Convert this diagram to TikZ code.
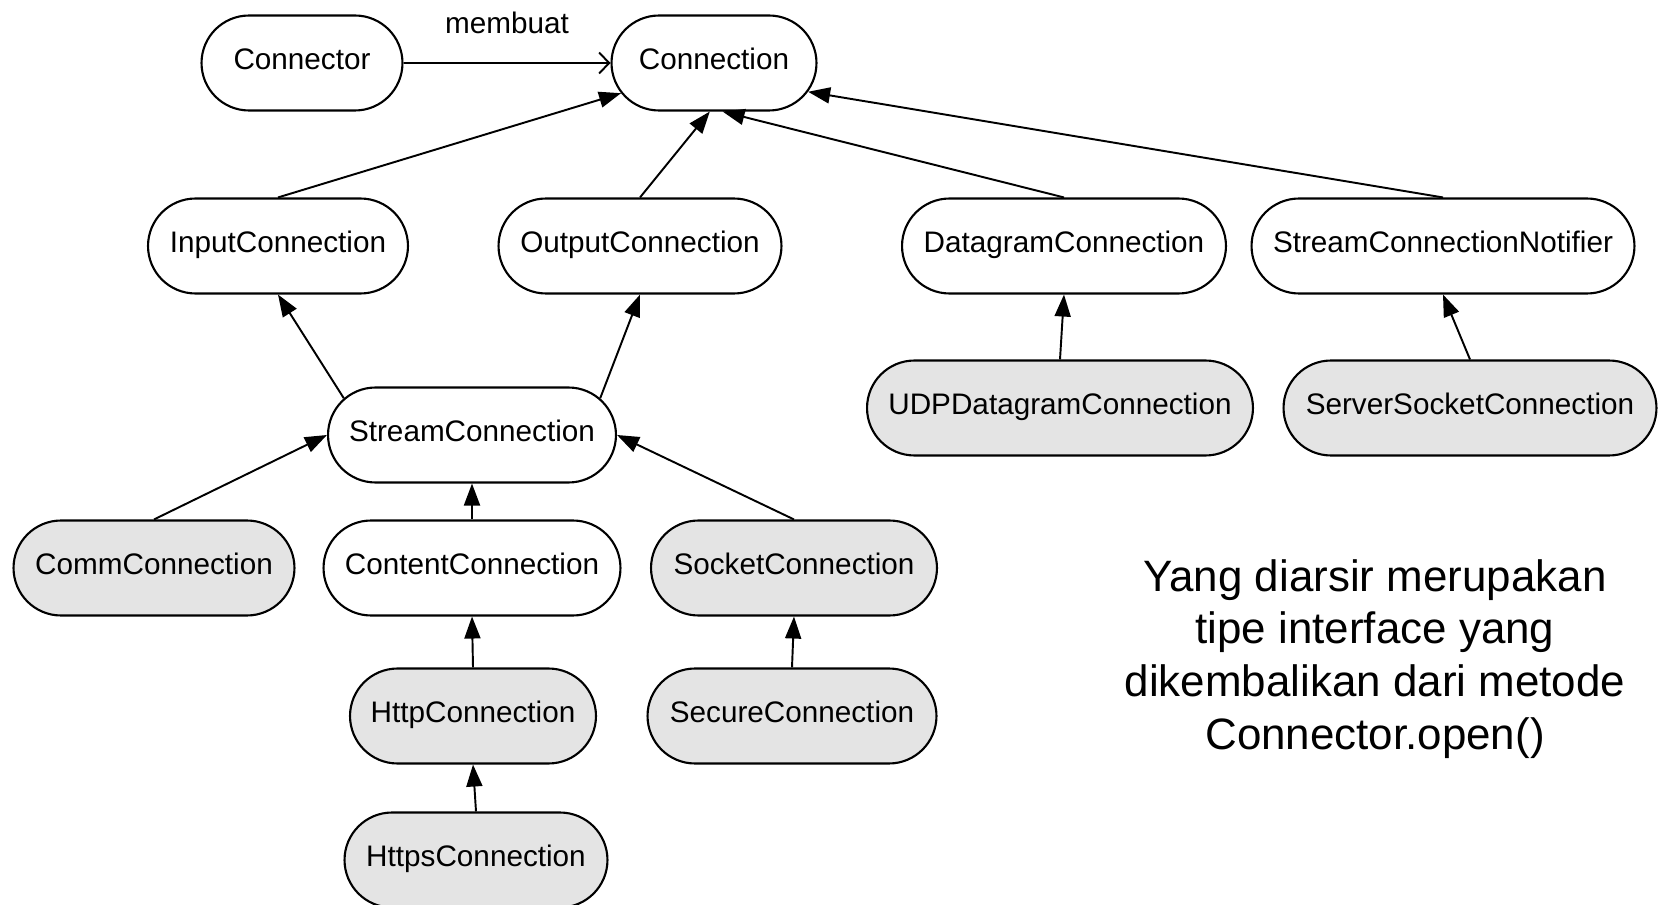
\documentclass[tikz,border=0pt]{standalone}
\usepackage{fontspec}
\setmainfont{Liberation Sans}
\usetikzlibrary{shapes.misc,arrows.meta}
\definecolor{shadegrey}{RGB}{228,228,228}
\tikzset{
	plainbox/.style={rounded rectangle, draw, line width=1.2pt, minimum height=1.9cm, minimum width=#1, inner sep=0pt, text height=0.8em, text depth=0.08em, font=\fontsize{16.9}{20}\selectfont},
	greybox/.style={plainbox=#1, fill=shadegrey},
	inherit/.style={line width=1.1pt, -{Triangle[length=0.44cm,width=0.32cm]}},
}

\begin{document}
\begin{tikzpicture}[x=0.02cm,y=-0.02cm]
	\fill[white] (0,0) rectangle (1660,905);
	\useasboundingbox (0,0) rectangle (1660,905);
	% top row
	\node[plainbox=4.02cm] (connector) at (302,63) {Connector};
	\node[plainbox=4.1cm] (connection) at (714,63) {Connection};
	\node[font=\fontsize{16.9}{20}\selectfont] (membuat) at (507,23) {membuat};
	% interfaces
	\node[plainbox=5.2cm] (input) at (278,246) {InputConnection};
	\node[plainbox=5.66cm] (output) at (640,246) {OutputConnection};
	\node[plainbox=6.48cm] (datagram) at (1064,246) {DatagramConnection};
	\node[plainbox=7.66cm] (notifier) at (1443,246) {StreamConnectionNotifier};
	\node[plainbox=5.76cm] (stream) at (472,435) {StreamConnection};
	\node[greybox=7.72cm] (udp) at (1060,408) {UDPDatagramConnection};
	\node[greybox=7.46cm] (server) at (1470,408) {ServerSocketConnection};
	\node[greybox=5.62cm] (comm) at (154,568) {CommConnection};
	\node[plainbox=5.94cm] (content) at (472,568) {ContentConnection};
	\node[greybox=5.72cm] (socket) at (794,568) {SocketConnection};
	\node[greybox=4.92cm] (http) at (473,716) {HttpConnection};
	\node[greybox=5.78cm] (secure) at (792,716) {SecureConnection};
	\node[greybox=5.26cm] (https) at (476,860) {HttpsConnection};
	% note
	\node[align=center, font=\fontsize{25}{30.1}\selectfont] (note) at (1375,659)
		{Yang diarsir merupakan\\tipe interface yang\\dikembalikan dari metode\\Connector.open()};
	% connectors
	\draw[line width=1.1pt, -{Straight Barb[length=0.2cm,width=0.42cm]}] (connector.east) -- (connection.west);
	\draw[inherit] (input.north) -- (connection.198);
	\draw[inherit] (output.north) -- (connection.-95);
	\draw[inherit] (datagram.north) -- (connection.-80);
	\draw[inherit] (notifier.north) -- (connection.343);
	\draw[inherit] (stream.164) -- (input.south);
	\draw[inherit] (stream.16) -- (output.south);
	\draw[inherit] (udp.north) -- (datagram.south);
	\draw[inherit] (server.north) -- (notifier.south);
	\draw[inherit] (comm.north) -- (stream.west);
	\draw[inherit] (content.north) -- (stream.south);
	\draw[inherit] (socket.north) -- (stream.east);
	\draw[inherit] (http.north) -- (content.south);
	\draw[inherit] (https.north) -- (http.south);
	\draw[inherit] (secure.north) -- (socket.south);
\end{tikzpicture}
\end{document}
